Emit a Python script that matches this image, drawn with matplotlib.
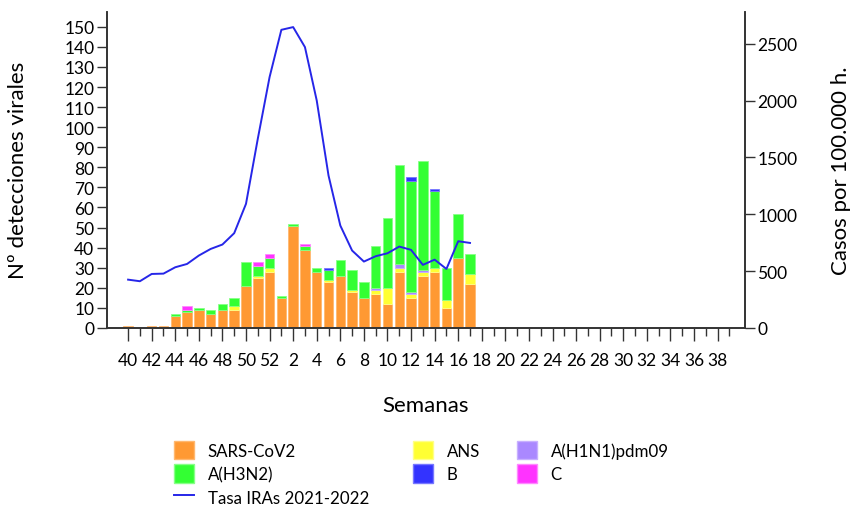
import numpy as np
import matplotlib
matplotlib.use('Agg')
import matplotlib.pyplot as plt
from matplotlib.patches import Patch
from matplotlib.lines import Line2D

plt.rcParams['font.family'] = ['Lato', 'DejaVu Sans']

# weeks of the 2021-2022 season (40..52, then 1..39)
weeks = list(range(40, 53)) + list(range(1, 40))

# detections per virus (weeks 40 .. 17 have data)
sars = [1, 0, 1, 1, 6, 8, 9, 7, 9, 9, 21, 25, 28, 15, 51, 39, 28, 23, 26, 18,
        15, 17, 12, 28, 15, 26, 28, 10, 35, 22]
ans = [0, 0, 0, 0, 0, 0, 0, 0, 0, 2, 0, 1, 2, 0, 0, 0, 0, 1, 0, 1,
       0, 2, 8, 2, 2, 2, 2, 4, 0, 5]
h1n1 = [0, 0, 0, 0, 0, 0, 0, 0, 0, 0, 0, 0, 0, 0, 0, 0, 0, 0, 0, 0,
        0, 1, 0, 2, 1, 1, 0, 0, 0, 0]
h3n2 = [0, 0, 0, 0, 1, 1, 1, 2, 3, 4, 12, 5, 5, 1, 1, 2, 2, 5, 8, 10,
        8, 21, 35, 49, 55, 54, 38, 16, 22, 10]
b = [0, 0, 0, 0, 0, 0, 0, 0, 0, 0, 0, 0, 0, 0, 0, 0, 0, 1, 0, 0,
     0, 0, 0, 0, 2, 0, 1, 0, 0, 0]
c = [0, 0, 0, 0, 0, 2, 0, 0, 0, 0, 0, 2, 2, 0, 0, 1, 0, 0, 0, 0,
     0, 0, 0, 0, 0, 0, 0, 0, 0, 0]

# IRA rate per 100.000 inhabitants
tasa = [425, 411, 475, 478, 534, 563, 637, 695, 734, 834, 1092, 1664, 2207, 2623,
        2647, 2471, 2001, 1341, 901, 681, 584, 631, 657, 716, 687, 555, 601, 519,
        763, 748]

series = [
    ('SARS-CoV2', sars, '#FF9933', '#FFB870'),
    ('ANS', ans, '#FFFF33', '#FFFF88'),
    ('A(H1N1)pdm09', h1n1, '#AA88FF', '#C8B0FF'),
    ('A(H3N2)', h3n2, '#33FF33', '#88FF88'),
    ('B', b, '#3333FF', '#7777FF'),
    ('C', c, '#FF33FF', '#FF88FF'),
]
colors = {name: (col, edge) for name, _, col, edge in series}

fig = plt.figure(figsize=(8.55, 5.1), dpi=100)
ax = fig.add_axes([0.125, 0.355, 0.746, 0.62])
ax2 = ax.twinx()

x = np.arange(len(sars))
bottom = np.zeros(len(sars))
for name, vals, col, edge in series:
    vals = np.array(vals, dtype=float)
    keep = vals > 0
    ax.bar(x[keep], vals[keep], width=0.8, bottom=bottom[keep], color=col,
           edgecolor=edge, linewidth=0.6, zorder=2)
    bottom += vals

ax2.plot(x, tasa, color='#2626E8', lw=1.4, zorder=3)

ax.set_xlim(-1.8, 52.3)
ax.set_ylim(0, 157.5)
ax2.set_ylim(0, 2782)
ax.set_yticks(range(0, 151, 10))
ax2.set_yticks(range(0, 2501, 500))

ax.set_xticks(range(0, len(weeks), 2))
ax.set_xticklabels([str(w) for i, w in enumerate(weeks) if i % 2 == 0])
ax.set_xticks(range(1, len(weeks), 2), minor=True)
ax.tick_params(axis='x', which='major', length=9, width=1, pad=8, labelsize=12.5, color='#333333')
ax.tick_params(axis='x', which='minor', length=6, width=1, color='#333333')
ax.tick_params(axis='y', length=7, width=1, labelsize=12.5, pad=2, color='#333333')
ax2.tick_params(axis='y', length=7, width=1, labelsize=12.5, pad=2, color='#333333')

for a in (ax, ax2):
    a.spines['top'].set_visible(False)
    for s in ('left', 'right', 'bottom'):
        a.spines[s].set_color('#333333')
        a.spines[s].set_linewidth(1.2)

ax.set_ylabel('Nº detecciones virales', fontsize=16, labelpad=26)
ax2.set_ylabel('Casos por 100.000 h.', fontsize=16, labelpad=24)
ax.set_xlabel('Semanas', fontsize=16, labelpad=20)


def patch(name):
    col, edge = colors[name]
    return Patch(facecolor=col, edgecolor=edge)


# legend drawn as three columns, placed like the reference
legend_cols = [
    (0.2035, [patch('SARS-CoV2'), patch('A(H3N2)'), Line2D([], [], color='#2626E8', lw=1.4)],
     ['SARS-CoV2', 'A(H3N2)', 'Tasa IRAs 2021-2022']),
    (0.483, [patch('ANS'), patch('B')], ['ANS', 'B']),
    (0.6045, [patch('A(H1N1)pdm09'), patch('C')], ['A(H1N1)pdm09', 'C']),
]
for xpos, hs, ls in legend_cols:
    leg = fig.legend(hs, ls, loc='upper left', bbox_to_anchor=(xpos, 0.134),
                     frameon=False, fontsize=12.2, handlelength=1.18, handleheight=1.3,
                     labelspacing=0.3, handletextpad=0.82, borderpad=0, borderaxespad=0)

fig.savefig('out.png', dpi=100)
